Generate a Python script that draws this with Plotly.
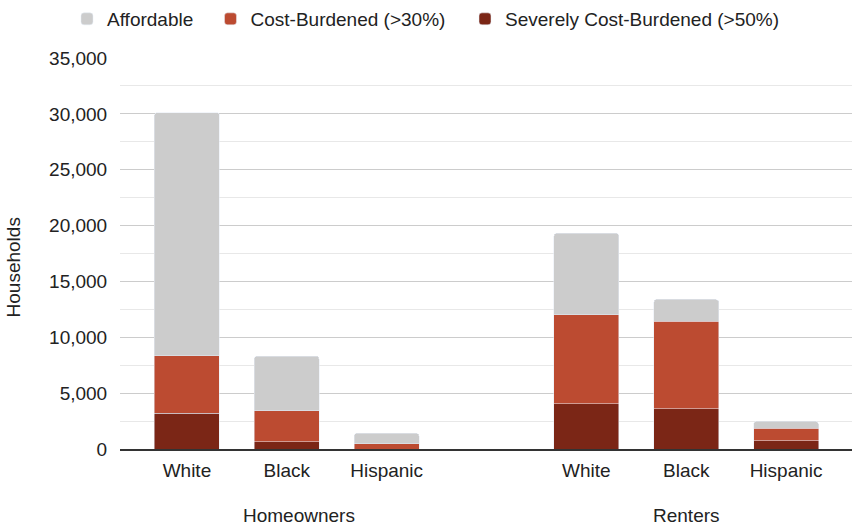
import plotly.graph_objects as go

# Data (segment heights, households)
groups = ["Homeowners", "Renters"]
races = ["White", "Black", "Hispanic"]
positions = [0, 1, 2, 4, 5, 6]
tick_labels = ["White", "Black", "Hispanic", "White", "Black", "Hispanic"]

severe = [3180, 670, 0, 4030, 3590, 760]
cost_burdened = [5150, 2740, 470, 7980, 7860, 1120]   # >30% but <=50%
affordable = [21790, 4890, 940, 7300, 1940, 590]

series_names = ["Affordable", "Cost-Burdened (>30%)", "Severely Cost-Burdened (>50%)"]
colors = ["#cccccc", "#bc4b31", "#7b2616"]

FONT = "Liberation Sans, Arial, sans-serif"
FS = 19

fig = go.Figure()
fig.add_bar(x=positions, y=severe, name=series_names[2], marker_color=colors[2],
            width=0.65, legend="legend3")
fig.add_bar(x=positions, y=cost_burdened, name=series_names[1], marker_color=colors[1],
            width=0.65, legend="legend2")
fig.add_bar(x=positions, y=affordable, name=series_names[0], marker_color=colors[0],
            width=0.65, legend="legend")

legend_common = dict(orientation="h", yanchor="middle", y=1.10, xanchor="left",
                     font=dict(family=FONT, size=FS, color="#222222"),
                     bgcolor="rgba(0,0,0,0)", borderwidth=0)

fig.update_layout(
    width=852, height=525,
    margin=dict(l=120, r=0, t=53, b=76),
    paper_bgcolor="white", plot_bgcolor="white",
    barmode="stack",
    barcornerradius=3,
    font=dict(family=FONT, size=FS, color="#222222"),
    legend=dict(x=(67 - 120) / 732, **legend_common),
    legend2=dict(x=(210.5 - 120) / 732, **legend_common),
    legend3=dict(x=(465 - 120) / 732, **legend_common),
    xaxis=dict(range=[-0.67, 6.66], tickvals=positions, ticktext=tick_labels,
               showgrid=False, zeroline=False, showline=True, linecolor="#333333",
               linewidth=1.5, ticks="outside", ticklen=3, tickcolor="white",
               tickfont=dict(family=FONT, size=FS, color="#222222")),
    yaxis=dict(range=[0, 35000], tickvals=[0, 5000, 10000, 15000, 20000, 25000, 30000, 35000],
               tickformat=",d", showgrid=True, gridcolor="#cccccc", gridwidth=1,
               zeroline=False, ticks="outside", ticklen=8, tickcolor="white",
               tickfont=dict(family=FONT, size=FS, color="#222222"),
               minor=dict(dtick=2500, showgrid=True, gridcolor="#e8e8e8", gridwidth=1)),
    showlegend=True,
)

fig.add_annotation(text="Households", xref="paper", yref="paper",
                   x=(13.3 - 120) / 732, y=(449.3 - 265) / 396.3, textangle=-90,
                   showarrow=False, xanchor="center", yanchor="middle",
                   font=dict(family=FONT, size=FS, color="#222222"))
group_x = [1.12, 5.0]
for g, gx in zip(groups, group_x):
    fig.add_annotation(text=g, xref="x", yref="paper", x=gx, y=(449.3 - 517) / 396.3,
                       showarrow=False, xanchor="center", yanchor="middle",
                       font=dict(family=FONT, size=FS, color="#222222"))

fig.write_html("out.html")
